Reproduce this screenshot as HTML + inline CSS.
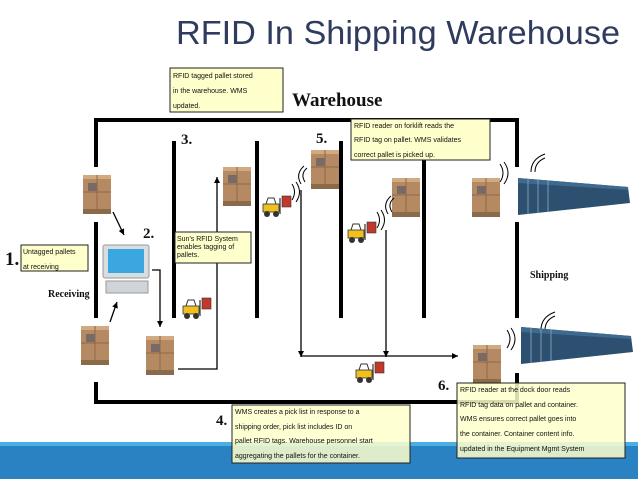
<!DOCTYPE html>
<html><head><meta charset="utf-8"><style>
body{margin:0;background:#fff;}
svg{display:block;}
.b{font-family:"Liberation Sans",sans-serif;font-size:7px;fill:#111;}
.n{font-family:"Liberation Serif",serif;font-weight:bold;fill:#111;}
</style></head><body>
<svg width="638" height="479" viewBox="0 0 638 479" xmlns="http://www.w3.org/2000/svg">
<defs>
<marker id="ar" markerWidth="8" markerHeight="8" refX="6" refY="3" orient="auto" markerUnits="userSpaceOnUse"><path d="M0,0 L6,3 L0,6 z" fill="#000"/></marker>
<g id="pal">
<rect x="0" y="34" width="28" height="5" fill="#8b6a4a"/>
<rect x="0" y="0" width="28" height="34" fill="#b58a63"/>
<rect x="0" y="0" width="28" height="4" fill="#d2aa82"/>
<line x1="14" y1="0" x2="14" y2="34" stroke="#8e6846" stroke-width="1"/>
<line x1="0" y1="17" x2="28" y2="17" stroke="#8e6846" stroke-width="1"/>
<rect x="5" y="8" width="9" height="8" fill="#7a6a66"/>
</g>
<g id="fk">
<rect x="0" y="8" width="16" height="8" fill="#f0c020" stroke="#333" stroke-width="0.8"/>
<path d="M3,8 L5,2 L11,2 L13,8" fill="none" stroke="#333" stroke-width="1"/>
<line x1="17" y1="2" x2="17" y2="18" stroke="#333" stroke-width="1.2"/>
<rect x="19" y="0" width="9" height="11" fill="#c0392b" stroke="#333" stroke-width="0.6"/>
<circle cx="4" cy="18" r="3" fill="#333"/><circle cx="13" cy="18" r="3" fill="#333"/>
</g>
<g id="ct">
<polygon points="0,5 110,14 112,30 0,42" fill="#2d4f70"/>
<polygon points="0,5 110,14 110,17 0,10" fill="#3f6a90"/>
<line x1="10" y1="6" x2="10" y2="41" stroke="#7d9ab5" stroke-width="1"/>
<line x1="20" y1="7" x2="20" y2="40" stroke="#7d9ab5" stroke-width="1"/>
<line x1="30" y1="8" x2="30" y2="39" stroke="#7d9ab5" stroke-width="1"/>
</g>
</defs>

<text x="176" y="44" font-family="Liberation Sans,sans-serif" font-size="33" fill="#2f3c5e" textLength="444" lengthAdjust="spacingAndGlyphs">RFID In Shipping Warehouse</text>

<!-- footer -->
<rect x="0" y="442" width="638" height="37" fill="#2b82c2"/>
<rect x="0" y="442" width="638" height="4" fill="#4ab0e4"/>

<!-- walls -->
<g stroke="#000" stroke-width="4" fill="none">
<path d="M96,167 V120 H517 V167"/>
<line x1="96" y1="222" x2="96" y2="318"/>
<path d="M96,382 V402 H517 V373"/>
<line x1="517" y1="222" x2="517" y2="318"/>
<line x1="174" y1="141" x2="174" y2="318"/>
<line x1="257" y1="141" x2="257" y2="318"/>
<line x1="341" y1="141" x2="341" y2="318"/>
<line x1="424" y1="160" x2="424" y2="318"/>
</g>

<!-- arrows -->
<g stroke="#000" stroke-width="1.3" fill="none">
<line x1="113" y1="212" x2="124" y2="235" marker-end="url(#ar)"/>
<line x1="110" y1="322" x2="117" y2="302" marker-end="url(#ar)"/>
<polyline points="152,270 160,270 160,327" marker-end="url(#ar)"/>
<polyline points="178,369 217,369 217,177" marker-end="url(#ar)"/>
<line x1="301" y1="190" x2="301" y2="357" marker-end="url(#ar)"/>
<line x1="386" y1="230" x2="386" y2="357" marker-end="url(#ar)"/>
<line x1="301" y1="356" x2="458" y2="356" marker-end="url(#ar)"/>
</g>

<!-- computer -->
<rect x="103" y="245" width="46" height="33" rx="2" fill="#d8dde2" stroke="#999"/>
<rect x="108" y="249" width="36" height="24" fill="#3aa7e0"/>
<rect x="106" y="281" width="42" height="12" fill="#d0d4d8" stroke="#999"/>

<!-- pallets -->
<use href="#pal" x="83" y="175"/>
<use href="#pal" x="223" y="167"/>
<use href="#pal" x="311" y="150"/>
<use href="#pal" x="392" y="178"/>
<use href="#pal" x="472" y="178"/>
<use href="#pal" x="81" y="326"/>
<use href="#pal" x="146" y="336"/>
<use href="#pal" x="473" y="345"/>

<!-- forklifts -->
<use href="#fk" x="263" y="196"/>
<use href="#fk" x="348" y="222"/>
<use href="#fk" x="183" y="298"/>
<use href="#fk" x="356" y="362"/>

<!-- radio waves -->
<g stroke="#000" stroke-width="1" fill="none">
<path d="M292,200 q5,-8 0,-16"/><path d="M296,202 q7,-10 0,-20"/>
<path d="M305,182 q-5,-8 2,-14"/><path d="M301,184 q-6,-10 3,-18"/>
<path d="M377,228 q5,-8 0,-16"/><path d="M381,230 q7,-10 0,-20"/>
<path d="M392,212 q-5,-8 2,-14"/><path d="M388,214 q-6,-10 3,-18"/>
<path d="M500,182 q6,-9 0,-18"/><path d="M504,184 q8,-11 0,-22"/>
<path d="M535,172 q0,-10 10,-14"/><path d="M531,172 q0,-13 14,-18"/>
<path d="M507,348 q6,-9 0,-18"/><path d="M511,350 q8,-11 0,-22"/>
<path d="M545,330 q0,-10 10,-14"/><path d="M541,330 q0,-13 14,-18"/>
</g>

<!-- containers -->
<use href="#ct" x="518" y="173"/>
<use href="#ct" x="521" y="322"/>

<!-- labels -->
<text x="292" y="106" class="n" font-size="19">Warehouse</text>
<text x="181" y="144" class="n" font-size="15">3.</text>
<text x="316" y="143" class="n" font-size="15">5.</text>
<text x="143" y="238" class="n" font-size="15">2.</text>
<text x="5" y="265" class="n" font-size="19">1.</text>
<text x="48" y="297" class="n" font-size="10">Receiving</text>
<text x="530" y="278" class="n" font-size="10">Shipping</text>
<text x="438" y="390" class="n" font-size="15">6.</text>
<text x="216" y="425" class="n" font-size="15">4.</text>

<g stroke="#222" stroke-width="1">
<rect x="170" y="68" width="113" height="44" fill="#ffffcc"/>
<rect x="351" y="119" width="139" height="41" fill="#ffffcc"/>
<rect x="175" y="232" width="76" height="31" fill="#ffffcc"/>
<rect x="21" y="245" width="67" height="26" fill="#ffffcc"/>
<rect x="457" y="383" width="168" height="75" fill="#ffffcc" fill-opacity="0.85"/>
<rect x="232" y="405" width="178" height="58" fill="#ffffcc" fill-opacity="0.85"/>
</g>
<text class="b" x="173" y="78">RFID tagged pallet stored</text>
<text class="b" x="173" y="93">in the warehouse.  WMS</text>
<text class="b" x="173" y="108">updated.</text>
<text class="b" x="354" y="128">RFID reader on forklift reads the</text>
<text class="b" x="354" y="142">RFID tag on pallet. WMS validates</text>
<text class="b" x="354" y="157">correct pallet is picked up.</text>
<text class="b" x="177" y="241">Sun's RFID System</text>
<text class="b" x="177" y="249">enables tagging of</text>
<text class="b" x="177" y="257">pallets.</text>
<text class="b" x="23" y="254">Untagged pallets</text>
<text class="b" x="23" y="269">at receiving</text>
<text class="b" x="460" y="392">RFID reader at the dock door reads</text>
<text class="b" x="460" y="407">RFID tag data on pallet and container.</text>
<text class="b" x="460" y="421">WMS ensures correct pallet goes into</text>
<text class="b" x="460" y="436">the container. Container content info.</text>
<text class="b" x="460" y="451">updated in the Equipment Mgmt System</text>
<text class="b" x="235" y="414">WMS creates a pick list in response to a</text>
<text class="b" x="235" y="429">shipping order, pick list includes ID on</text>
<text class="b" x="235" y="443">pallet RFID tags. Warehouse personnel start</text>
<text class="b" x="235" y="458">aggregating the pallets for the container.</text>
</svg>
</body></html>
